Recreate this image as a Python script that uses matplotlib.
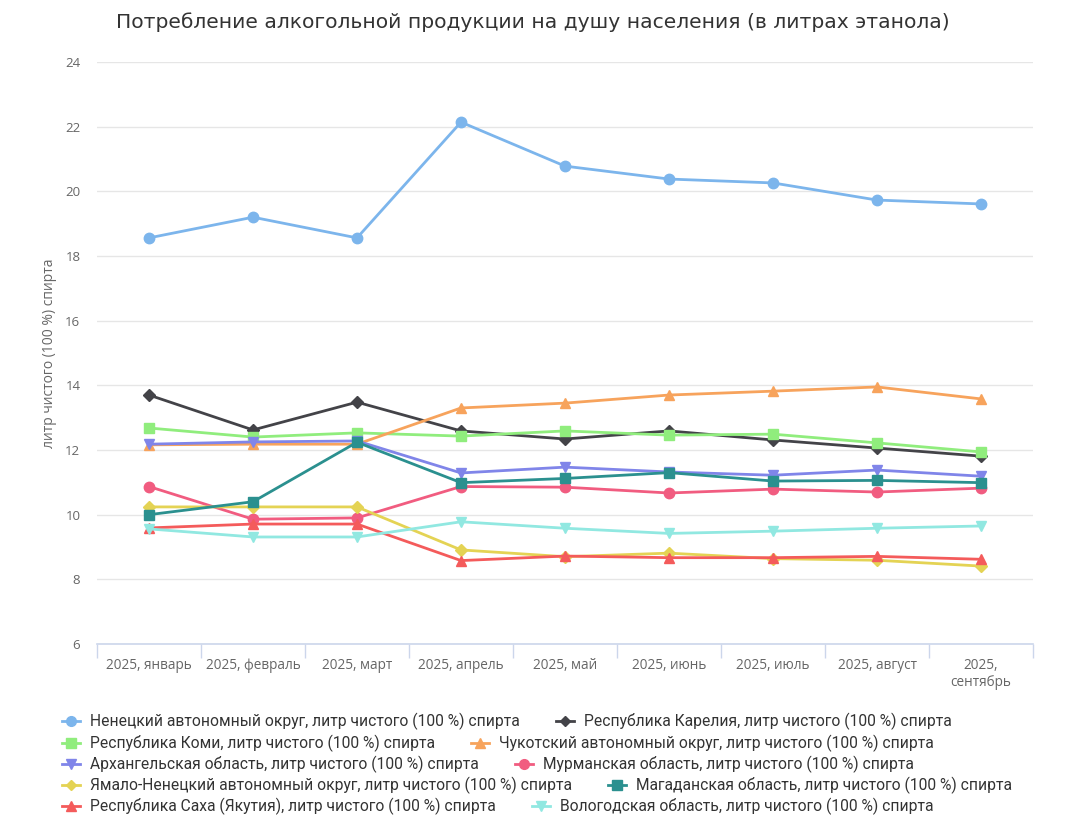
import matplotlib
matplotlib.use("Agg")
import matplotlib.pyplot as plt
from matplotlib.lines import Line2D
import numpy as np

months = ["2025, январь", "2025, февраль", "2025, март", "2025, апрель", "2025, май",
          "2025, июнь", "2025, июль", "2025, август", "2025,\nсентябрь"]

suffix = ", литр чистого (100 %) спирта"
regions = ["Ненецкий автономный округ", "Республика Карелия", "Республика Коми",
           "Чукотский автономный округ", "Архангельская область", "Мурманская область",
           "Ямало-Ненецкий автономный округ", "Магаданская область",
           "Республика Саха (Якутия)", "Вологодская область"]

nenets = [18.56, 19.20, 18.56, 22.14, 20.78, 20.38, 20.26, 19.73, 19.61]
karelia = [13.70, 12.62, 13.48, 12.59, 12.34, 12.59, 12.31, 12.06, 11.81]
komi = [12.68, 12.40, 12.53, 12.43, 12.59, 12.46, 12.49, 12.22, 11.94]
chukotka = [12.16, 12.18, 12.18, 13.30, 13.45, 13.70, 13.82, 13.95, 13.58]
arkhangelsk = [12.18, 12.25, 12.28, 11.29, 11.47, 11.32, 11.22, 11.38, 11.19]
murmansk = [10.87, 9.86, 9.90, 10.87, 10.85, 10.67, 10.79, 10.70, 10.82]
yamal = [10.24, 10.24, 10.24, 8.91, 8.70, 8.81, 8.64, 8.59, 8.41]
magadan = [10.00, 10.40, 12.24, 10.99, 11.12, 11.30, 11.04, 11.06, 10.99]
sakha = [9.59, 9.71, 9.71, 8.58, 8.72, 8.67, 8.67, 8.71, 8.62]
vologda = [9.56, 9.31, 9.31, 9.78, 9.58, 9.42, 9.49, 9.58, 9.65]

series = [nenets, karelia, komi, chukotka, arkhangelsk, murmansk, yamal, magadan, sakha, vologda]
colors = ["#7cb5ec", "#434348", "#90ed7d", "#f7a35c", "#8085e9",
          "#f15c80", "#e4d354", "#2b908f", "#f45b5b", "#91e8e1"]
markers = ["o", "D", "s", "^", "v", "o", "D", "s", "^", "v"]
msizes = [7.5, 6, 7, 7.5, 7.5, 7.5, 6, 7, 7.5, 7.5]

W, H = 1067, 831
fig = plt.figure(figsize=(W / 100, H / 100), dpi=100)
ax = fig.add_axes([97 / W, 1 - 644 / H, 936 / W, (644 - 62) / H])

x = np.arange(len(months))
for vals, c, m, ms in zip(series, colors, markers, msizes):
    ax.plot(x, vals, color=c, lw=2, marker=m, markersize=ms, zorder=3)

ax.set_xlim(-0.5, len(months) - 0.5)
ax.set_ylim(6, 24)
ax.set_yticks(np.arange(6, 25, 2))
ax.yaxis.grid(True, color="#e6e6e6", lw=1)
ax.set_axisbelow(True)
for s in ["top", "right", "left"]:
    ax.spines[s].set_visible(False)
ax.spines["bottom"].set_color("#ccd6eb")
ax.spines["bottom"].set_linewidth(1.2)

ax.tick_params(axis="y", length=0, pad=12, labelsize=9.5, labelcolor="#666666")
ax.set_yticklabels([str(v) for v in range(6, 25, 2)], fontfamily="Open Sans")
ax.set_xticks(x)
ax.set_xticklabels(months, fontsize=9.8, color="#666666", fontfamily="Open Sans")
ax.tick_params(axis="x", length=0, pad=10)
ax.set_xticks(np.arange(-0.5, len(months)), minor=True)
ax.tick_params(axis="x", which="minor", length=10, color="#ccd6eb", width=1)

ax.set_ylabel("литр чистого (100 %) спирта", fontsize=10, color="#666666",
              fontfamily="Open Sans", labelpad=6)

fig.text(533 / W, 1 - 22 / H, "Потребление алкогольной продукции на душу населения (в литрах этанола)",
         ha="center", va="center", fontsize=14.6, color="#333333")

# legend, flowing two items per row like the original
renderer = fig.canvas.get_renderer()
row_y = [721, 743, 764, 785, 806]
for i in range(len(regions)):
    row = i // 2
    py = 1 - row_y[row] / H
    if i % 2 == 0:
        x0 = 62
    else:
        bb = prev_text.get_window_extent(renderer=renderer)
        x0 = bb.x1 + 36
    fig.add_artist(Line2D([x0 / W, (x0 + 18) / W], [py, py], color=colors[i], lw=2,
                          transform=fig.transFigure))
    fig.add_artist(Line2D([(x0 + 9) / W], [py], color=colors[i], marker=markers[i],
                          markersize=msizes[i] - 0.5, transform=fig.transFigure))
    t = fig.text((x0 + 28) / W, py, regions[i] + suffix, ha="left", va="center",
                 fontsize=11.25, color="#333333", fontfamily="Roboto")
    prev_text = t

fig.savefig("out.png", dpi=100, facecolor="white")
